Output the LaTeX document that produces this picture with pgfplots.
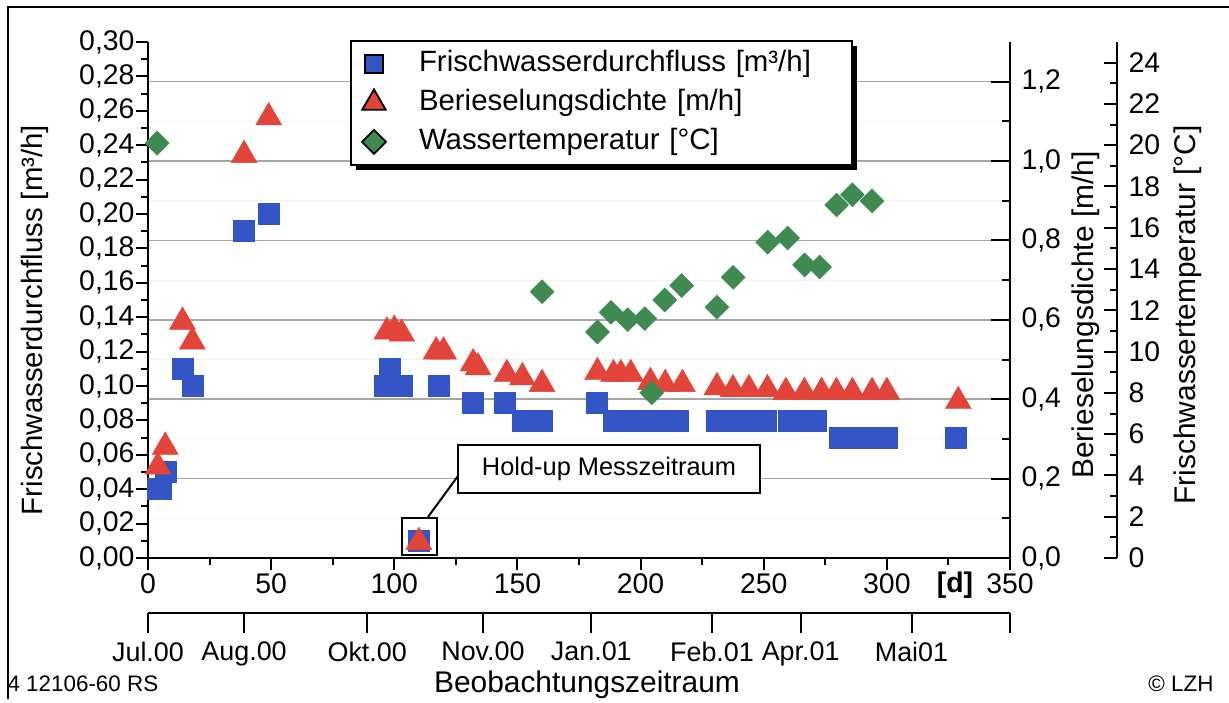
\documentclass[border=0pt]{standalone}
\usepackage{pgfplots}
\pgfplotsset{compat=1.18}
\usetikzlibrary{shadows}
\usepackage{fontspec}
\setmainfont{Liberation Sans}
\definecolor{sqblue}{RGB}{50,84,196}
\definecolor{trired}{RGB}{226,68,58}
\definecolor{diagreen}{RGB}{62,138,80}
\newcommand{\tickfont}{\fontsize{28.5}{31}\selectfont}
\newcommand{\datefont}{\fontsize{27}{30}\selectfont}
\newcommand{\legfont}{\fontsize{29.5}{33}\selectfont}
\newcommand{\labfont}{\fontsize{30}{34}\selectfont}
\pgfplotsset{base/.style={scale only axis, width=862bp, height=516bp,
  at={(148bp,141bp)}, anchor=south west, xmin=0, xmax=350, clip=false,
  axis line style={line width=2.5bp}, tick style={line width=2bp, black}}}

\begin{document}
\begin{tikzpicture}
\begin{scope}[x=1bp,y=1bp]
\path[use as bounding box] (0,0) rectangle (1229,699);
\fill[white] (0,0) rectangle (1229,699);
\draw[line width=2.5bp] (8,0) -- (8,692) -- (1229,692);
\end{scope}

% grid + Berieselungsdichte axis
\begin{axis}[base, ymin=0, ymax=1.3,
  axis x line=none, axis y line*=right,
  xtick=\empty,
  ytick={0,0.2,0.4,0.6,0.8,1.0,1.2},
  yticklabels={{0,0},{0,2},{0,4},{0,6},{0,8},{1,0},{1,2}},
  minor ytick={0.1,0.3,0.5,0.7,0.9,1.1},
  tick align=inside, major tick length=19bp, minor tick length=8bp,
  ymajorgrids, major grid style={draw=gray!70, line width=1.5bp},
  yminorgrids, minor grid style={draw=gray!10, line width=1bp},
  yticklabel style={font=\tickfont, xshift=8bp}]
\end{axis}

% main axis with squares
\begin{axis}[base, ymin=0, ymax=0.3,
  axis x line*=bottom, axis y line*=left,
  xtick={0,50,100,150,200,250,300,350},
  xticklabels={0,50,100,150,200,250,300,350},
  minor xtick={25,75,125,175,225,275,325},
  ytick={0,0.02,0.04,0.06,0.08,0.10,0.12,0.14,0.16,0.18,0.20,0.22,0.24,0.26,0.28,0.30},
  yticklabels={{0,00},{0,02},{0,04},{0,06},{0,08},{0,10},{0,12},{0,14},{0,16},{0,18},{0,20},{0,22},{0,24},{0,26},{0,28},{0,30}},
  minor ytick={0.01,0.03,0.05,0.07,0.09,0.11,0.13,0.15,0.17,0.19,0.21,0.23,0.25,0.27,0.29},
  tick align=outside, major tick length=12bp, minor tick length=7bp,
  ticklabel style={font=\tickfont},
  yticklabel style={xshift=2bp}]
\addplot[only marks, mark=square*, mark size=10.5bp, color=sqblue, forget plot] table {
x y
4 0.040
5 0.040
7 0.050
14 0.110
18 0.100
39 0.190
49 0.200
96 0.100
98 0.110
103 0.100
110 0.010
118 0.100
132 0.090
145 0.090
152 0.080
160 0.080
182 0.090
189 0.080
193 0.080
197 0.080
201 0.080
205 0.080
209 0.080
213 0.080
215 0.080
231 0.080
235 0.080
239 0.080
243 0.080
247 0.080
251 0.080
260 0.080
264 0.080
268 0.080
271 0.080
281 0.070
285 0.070
289 0.070
293 0.070
297 0.070
300 0.070
328 0.070
};
\end{axis}

% triangles
\begin{axis}[base, ymin=0, ymax=1.3, hide axis]
\addplot[only marks, mark=triangle*, mark size=15bp, color=trired, forget plot] table {
x y
4 0.23
7 0.28
14 0.595
18 0.545
39 1.015
49 1.11
97 0.57
100 0.575
103 0.565
110 0.04
117 0.52
120 0.52
132 0.49
134 0.48
145.7 0.463
152 0.455
160 0.438
182.5 0.468
189 0.463
192 0.463
196 0.463
204 0.443
210 0.438
217 0.438
231 0.43
237.5 0.425
244 0.425
251.5 0.425
259 0.418
266.5 0.418
273.5 0.418
279.5 0.418
286 0.418
294 0.418
300 0.418
329 0.395
};
\end{axis}

% diamonds + legend
\begin{axis}[base, ymin=0, ymax=25, hide axis,
  legend cell align=left,
  legend style={at={(rel axis cs:0.2343,1.004)}, anchor=north west,
    draw=black, line width=2bp, fill=white, font=\legfont,
    inner xsep=11bp, inner ysep=8.5bp, row sep=10bp, column sep=33bp,
    nodes={inner xsep=0bp, inner ysep=0bp, text height=22bp, text depth=7bp, text width=422bp},
    drop shadow={shadow xshift=5bp, shadow yshift=-5bp, fill=black, opacity=1}}]
\addlegendimage{only marks, mark=square*, mark size=9bp, mark options={fill=sqblue, draw=black, line width=1.8bp}}
\addlegendentry{Frischwasserdurchfluss [m³/h]}
\addlegendimage{only marks, mark=triangle*, mark size=13.5bp, mark options={fill=trired, draw=black, line width=1.8bp}}
\addlegendentry{Berieselungsdichte [m/h]}
\addlegendimage{only marks, mark=square*, mark size=8.5bp, mark options={rotate=45, fill=diagreen, draw=black, line width=1.8bp}}
\addlegendentry{Wassertemperatur [°C]}
\addplot[only marks, mark=square*, mark size=8.5bp, mark options={rotate=45}, color=diagreen, forget plot] table {
x y
3.7 20.1
160 12.9
182.5 10.95
188 11.9
194.8 11.55
201.7 11.6
204.5 8.0
209.8 12.5
216.7 13.2
231 12.15
237.6 13.6
251.6 15.3
259.7 15.5
266.6 14.2
272.7 14.1
279.6 17.1
286 17.6
294 17.3
};
\end{axis}

% temperature axis
\begin{axis}[scale only axis, width=1bp, height=516bp, at={(1116bp,141bp)}, anchor=south west,
  xmin=0, xmax=1, ymin=0, ymax=25, clip=false,
  axis x line=none, axis y line*=right, xtick=\empty,
  ytick={0,2,4,6,8,10,12,14,16,18,20,22,24},
  yticklabels={0,2,4,6,8,10,12,14,16,18,20,22,24},
  minor ytick={1,3,5,7,9,11,13,15,17,19,21,23},
  tick align=inside, major tick length=13bp, minor tick length=7bp,
  axis line style={line width=2.5bp}, tick style={line width=2bp, black},
  yticklabel style={font=\tickfont, xshift=8bp}]
\end{axis}

% date axis
\begin{axis}[scale only axis, width=862bp, height=10bp, at={(148bp,86bp)}, anchor=south west,
  xmin=0, xmax=350, ymin=0, ymax=1, clip=false,
  axis x line*=bottom, axis y line=none, ytick=\empty,
  xtick={0,39,89,136,180,229,265,310,350},
  xticklabels={Jul.00,Aug.00,Okt.00,Nov.00,Jan.01,Feb.01,Apr.01,Mai01,{}},
  minor xtick={}, xminorticks=false,
  tick align=outside, major tick length=20bp,
  axis line style={line width=2bp}, tick style={line width=2bp, black},
  xticklabel style={font=\datefont, yshift=-5bp}]
\end{axis}

\begin{scope}[x=1bp,y=1bp]
% hold-up annotation
\draw[line width=2bp] (402,144) rectangle (437,181);
\draw[line width=2bp] (428,182) -- (458,223);
\node[draw, line width=2bp, fill=white, minimum width=302bp, minimum height=48bp, font=\fontsize{25.5}{28}\selectfont] at (609,230) {Hold-up Messzeitraum};
% axis labels
\node[rotate=90, anchor=base, font=\fontsize{29.5}{33}\selectfont] at (42,379) {Frischwasserdurchfluss [m³/h]};
\node[rotate=90, anchor=base, font=\labfont] at (1093,384) {Berieselungsdichte [m/h]};
\node[rotate=90, anchor=base, font=\labfont] at (1195,384) {Frischwassertemperatur [°C]};
\node[anchor=base, font=\labfont] at (587,6) {Beobachtungszeitraum};
\node[anchor=base west, font=\fontsize{22.5}{25}\selectfont] at (4,7) {4 12106-60 RS};
\node[anchor=base east, font=\fontsize{22.5}{25}\selectfont] at (1217,7) {© LZH};
\node[font=\tickfont\bfseries] at (955,114) {[d]};
\end{scope}
\end{tikzpicture}
\end{document}
